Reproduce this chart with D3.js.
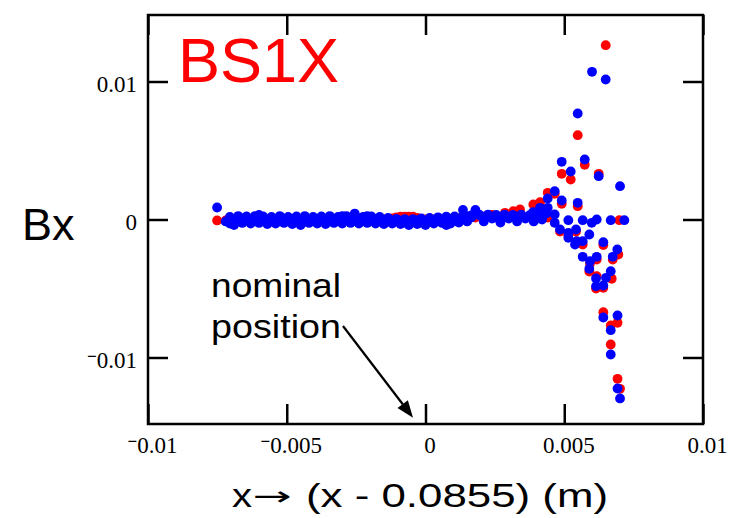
<!DOCTYPE html>
<html><head><meta charset="utf-8">
<script src="https://cdn.jsdelivr.net/npm/d3@7"></script>
<style>body{margin:0;background:#fff}svg{display:block}</style>
</head><body>
<svg id="c" width="729" height="518"></svg>
<script>
// ---------- data ----------
const title = "BS1X";
const yLabel = "Bx";
const xLabelA = "x";
const xLabelArrow = "\u2192";
const xLabelB = "(x - 0.0855) (m)";
const noteLines = ["nominal", "position"];
const xTicks = [-0.01, -0.005, 0, 0.005, 0.01];
const yTicks = [-0.01, 0, 0.01];
const xDomain = [-0.01, 0.01];
const yDomain = [-0.01482, 0.01482];
const notePoint = [-0.00045, -0.01436]; // arrow tip (data units)

// red series: flat band
const redBand = [
  [-0.00751,-0.00007],
  [-0.0072,-0.00007],[-0.0069,0],[-0.0066,-0.00007],[-0.0063,0],[-0.006,-0.00007],[-0.0057,0],
  [-0.0054,-0.00007],[-0.0051,0],[-0.0048,-0.00007],[-0.0045,0],[-0.0042,-0.00007],[-0.0039,0],
  [-0.0036,-0.00007],[-0.0033,0],[-0.003,0],[-0.0027,-0.00007],[-0.0024,0],[-0.0021,-0.00007],
  [-0.0018,0],[-0.0015,0],[-0.0012,0.00008],[-0.00105,0.00016],[-0.0009,0.0002],[-0.00075,0.0002],
  [-0.0006,0.0002],[-0.00045,0.0002],[-0.0003,0.00012],[0,0],[0.0003,0],[0.0006,0],[0.0009,0.00003],
  [0.0012,0.00007],[0.0015,0.0001],[0.0018,0.00014],[0.0021,0.0002],[0.0024,0.00034]
];
// red series: edge region
const redEdge = [
  [0.006494,0.01263],[0.005485,0.006108],[0.004909,0.003311],[0.005233,0.002898],[0.005738,0.003964],
  [0.006242,0.003311],[0.004404,0.001935],[0.004656,0.001862],[0.004909,0.001138],[0.005485,0.000964],
  [0.004127,0.001254],[0.003885,0.001087],[0.003406,0.000725],[0.003164,0.000601],[0.002865,0.000485],
  [0.004404,0.000145],[0.006985,-0.000051],[0.005665,-0.001812],[0.00617,-0.002898],[0.006408,-0.001848],
  [0.006949,-0.002536],[0.006747,-0.002898],[0.006711,-0.004297],[0.00617,-0.004108],[0.006408,-0.004949],
  [0.006408,-0.006717],[0.00692,-0.007485],[0.006675,-0.007681],[0.006675,-0.009058],[0.00692,-0.011543],
  [0.00701,-0.012268],[0.004847,-0.00087],[0.005147,-0.001159],[0.005424,-0.00087],[0.005929,-0.003188],
  [0.005903,-0.003768],[0.006145,-0.005]
];
// blue series: flat band (middle, upper and lower rows)
const blueBand = [
  [-0.00751,0.00087],
  [-0.0072,-0.00014],[-0.00705,-0.00029],[-0.0069,-0.0004],[-0.00675,-0.00007],[-0.0066,0.00007],[-0.00645,-0.00007],
  [-0.0063,0],[-0.00615,0.00007],[-0.006,0.00033],[-0.00585,0.00007],[-0.0057,-0.00007],[-0.00555,-0.00014],
  [-0.0054,0],[-0.00525,-0.00007],[-0.0051,0.00007],[-0.00495,-0.00007],[-0.0048,-0.00014],[-0.00465,0],
  [-0.0045,-0.0004],[-0.00435,-0.00014],[-0.0042,0],[-0.00405,-0.00007],[-0.0039,0.00007],[-0.00375,-0.00007],
  [-0.0036,-0.00014],[-0.00345,0],[-0.0033,0.00007],[-0.00315,-0.00007],[-0.003,0.00025],[-0.00285,0.00007],
  [-0.0027,0],[-0.00255,0.00043],[-0.0024,0.00007],[-0.00225,-0.00007],[-0.0021,0.00025],[-0.00195,0],
  [-0.0018,-0.00007],[-0.00165,-0.00014],[-0.0015,-0.00007],[-0.00135,0],[-0.0012,-0.00014],[-0.00105,-0.00007],
  [-0.0009,-0.00014],[-0.00075,-0.00022],[-0.0006,-0.0004],[-0.00045,-0.00014],[-0.0003,-0.00007],[-0.00015,-0.00022],
  [0,-0.0004],[0.00015,-0.00014],[0.0003,-0.00007],[0.00045,0],[0.0006,-0.00007],[0.00075,-0.0004],
  [0.0009,-0.00014],[0.00105,-0.00007],[0.0012,0.00007],[0.00135,0.00069],[0.0015,0.00022],[0.00165,0.00014],
  [0.0018,0.00069],[0.00195,0.00029],[0.0021,0.00014],[0.00225,0.00022],[0.0024,0.00007],[0.00255,0.00014],
  [0.0027,0],[0.00285,0.00022],[0.003,0.00007],[0.00315,0.00029],[0.0033,0],[0.00345,0.00022],
  [0.0036,0.00007],[0.00375,0.00029],[0.0039,0],[0.00405,0.00014],[0.0042,0],[0.00435,0.00043],
  [0.0021,-0.00014],[0.0027,-0.00022],[0.0033,-0.00014],[0.0039,-0.00014]
];
const blueUpper = [
  [-0.00705,0.00018],[-0.00675,0.00025],[-0.00645,0.00022],[-0.00615,0.00025],[-0.00585,0.00022],[-0.00555,0.00018],
  [-0.00525,0.00025],[-0.00495,0.00018],[-0.00465,0.00022],[-0.00435,0.00025],[-0.00405,0.00018],[-0.00375,0.00022],
  [-0.00345,0.00025],[-0.00315,0.00018],[-0.00285,0.00025],[-0.00255,0.00022],[-0.00225,0.00018],[-0.00195,0.00022],
  [-0.00165,0.00018],[-0.00135,0.00012],[-0.00105,0.00005],[-0.00075,0.00003],[-0.00045,0.00003],[-0.00015,0.00008],
  [0.00015,0.00012],[0.00045,0.00016],[0.00075,0.0002],[0.00105,0.00022],[0.00135,0.00025],[0.00165,0.00029],
  [0.00195,0.00033],[0.00225,0.00036],[0.00255,0.00033],[0.00285,0.00036],[0.00315,0.00033],[0.00345,0.00036],
  [0.00375,0.00029],[0.00405,0.00033]
];
const blueLower = [
  [-0.0069,-0.00029],[-0.0066,-0.00025],[-0.0063,-0.00029],[-0.006,-0.00025],[-0.0057,-0.00033],[-0.0054,-0.00029],
  [-0.0051,-0.00025],[-0.0048,-0.00033],[-0.0045,-0.00029],[-0.0042,-0.00025],[-0.0039,-0.00029],[-0.0036,-0.00033],
  [-0.0033,-0.00025],[-0.003,-0.00029],[-0.0027,-0.00025],[-0.0024,-0.00029],[-0.0021,-0.00025],[-0.0018,-0.00029],
  [-0.0015,-0.00033],[-0.0012,-0.00029],[-0.0009,-0.00033],[-0.0006,-0.00029],[-0.0003,-0.00033],[0,-0.00029],
  [0.0003,-0.00029],[0.0006,-0.00025],[0.0009,-0.00029],[0.0012,-0.00022],[0.0015,-0.00014]
];
// blue series: edge region
const blueEdge = [
  [0.004656,0.002051],[0.004404,0.001522],[0.004909,0.001377],[0.005485,0.00121],[0.004127,0.000848],
  [0.003874,0.000529],[0.004404,0.000848],[0.004656,0.000362],[0.005147,-0.000051],[0.005665,-0.000051],
  [0.00599,-0.000239],[0.00617,0],[0.006675,-0.000051],[0.007165,-0.000051],[0.004656,-0.000239],
  [0.004847,-0.000725],[0.005147,-0.000964],[0.005147,-0.001326],[0.005424,-0.000725],[0.005449,-0.001572],
  [0.005388,-0.001812],[0.005665,-0.001572],[0.005903,-0.001087],[0.005665,-0.002703],[0.005929,-0.003022],
  [0.005903,-0.003572],[0.00617,-0.002703],[0.006408,-0.001645],[0.006912,-0.002174],[0.006747,-0.002703],
  [0.006675,-0.003746],[0.006505,-0.004224],[0.006145,-0.004275],[0.006145,-0.004833],[0.006408,-0.004782],
  [0.006408,-0.007101],[0.00692,-0.006956],[0.006675,-0.008021],[0.006675,-0.009782],[0.00692,-0.012246],
  [0.00701,-0.01297],[0.006001,0.010702],[0.006494,0.010144],[0.005485,0.007681],[0.004909,0.004181],
  [0.005233,0.003478],[0.005738,0.004348],[0.006242,0.003137],[0.00701,0.002413]
];

// ---------- drawing ----------
const M = {left:148, right:703, top:15, bottom:424};
const svg = d3.select("#c");
const x = d3.scaleLinear().domain(xDomain).range([M.left, M.right]);
const y = d3.scaleLinear().domain(yDomain).range([M.bottom, M.top]);
const TICK = 20, SW = 2.5, R = 4.9;
const serif = "'Liberation Serif','Times New Roman',Times,serif";
const sans = "'Liberation Sans',Arial,Helvetica,sans-serif";

function numLabel(sel){
  sel.each(function(d){
    const t = d3.select(this); t.text(null);
    if (d < 0){
      t.append("tspan").attr("dy", -6).attr("font-size", 17).attr("font-weight", "bold").text("\u2212");
      t.append("tspan").attr("dy", 6).text(String(Math.abs(d)));
    } else t.text(d === 0 ? "0" : String(d));
  });
}
function styleAxis(g){
  g.attr("font-family", serif).attr("font-size", 23);
  g.select(".domain").remove();
  g.selectAll(".tick line").attr("stroke", "#000").attr("stroke-width", SW);
  g.selectAll(".tick text").attr("fill", "#000");
}

// points
const dots = svg.append("g");
dots.selectAll("circle.r").data(redBand.concat(redEdge)).join("circle")
  .attr("class","r").attr("cx", d => x(d[0])).attr("cy", d => y(d[1])).attr("r", R).attr("fill", "#ff0000");
dots.selectAll("circle.b").data(blueLower.concat(blueUpper, blueBand, blueEdge)).join("circle")
  .attr("class","b").attr("cx", d => x(d[0])).attr("cy", d => y(d[1])).attr("r", R).attr("fill", "#0000ff");

// axes (inward ticks on all four sides)
const gB = svg.append("g").attr("transform", `translate(0,${M.bottom})`)
  .call(d3.axisBottom(x).tickValues(xTicks).tickSizeInner(-TICK).tickSizeOuter(0)).call(styleAxis);
gB.selectAll(".tick text").attr("y", 29).attr("dy", 0).attr("dx", 4).call(numLabel);
svg.append("g").attr("transform", `translate(0,${M.top})`)
  .call(d3.axisTop(x).tickValues(xTicks).tickSizeInner(-TICK).tickSizeOuter(0).tickFormat("")).call(styleAxis);
const gL = svg.append("g").attr("transform", `translate(${M.left},0)`)
  .call(d3.axisLeft(y).tickValues(yTicks).tickSizeInner(-TICK).tickSizeOuter(0)).call(styleAxis);
gL.selectAll(".tick text").attr("x", -11).attr("dy", 0).attr("y", 10).call(numLabel);
svg.append("g").attr("transform", `translate(${M.right},0)`)
  .call(d3.axisRight(y).tickValues(yTicks).tickSizeInner(-TICK).tickSizeOuter(0).tickFormat("")).call(styleAxis);

// frame
svg.append("rect").attr("x", M.left).attr("y", M.top)
  .attr("width", M.right - M.left).attr("height", M.bottom - M.top)
  .attr("fill", "none").attr("stroke", "#000").attr("stroke-width", SW);

// title
svg.append("text").attr("x", 178).attr("y", 82).attr("font-family", sans).attr("font-size", 63)
  .attr("fill", "#ff0000").text(title);
// y label
svg.append("text").attr("x", 22).attr("y", 240).attr("font-family", sans).attr("font-size", 45)
  .attr("fill", "#000").text(yLabel);
// x label
svg.append("text").attr("x", 232).attr("y", 507).attr("font-family", sans).attr("font-size", 34)
  .attr("textLength", 20).attr("lengthAdjust", "spacingAndGlyphs").attr("fill", "#000").text(xLabelA);
svg.append("text").attr("x", 253).attr("y", 505).attr("font-family", "'DejaVu Sans',sans-serif").attr("font-size", 26)
  .attr("textLength", 39).attr("lengthAdjust", "spacingAndGlyphs").attr("fill", "#000").text(xLabelArrow);
svg.append("text").attr("x", 306).attr("y", 507).attr("font-family", sans).attr("font-size", 34)
  .attr("textLength", 302).attr("lengthAdjust", "spacingAndGlyphs").attr("fill", "#000").text(xLabelB);
// annotation
noteLines.forEach((s, i) => {
  svg.append("text").attr("x", 211).attr("y", 297 + i * 41).attr("font-family", sans).attr("font-size", 33)
    .attr("textLength", 130).attr("lengthAdjust", "spacingAndGlyphs").attr("fill", "#000").text(s);
});
const a0 = [343, 326], a1 = [x(notePoint[0]), y(notePoint[1])];
const dx = a1[0] - a0[0], dy = a1[1] - a0[1], L = Math.hypot(dx, dy), ux = dx / L, uy = dy / L;
const hl = 17, hw = 6.5;
const base = [a1[0] - ux * hl, a1[1] - uy * hl];
svg.append("line").attr("x1", a0[0]).attr("y1", a0[1]).attr("x2", base[0] + ux * 2).attr("y2", base[1] + uy * 2)
  .attr("stroke", "#000").attr("stroke-width", 2.2);
svg.append("path").attr("d", d3.line()([a1, [base[0] - uy * hw, base[1] + ux * hw], [base[0] + uy * hw, base[1] - ux * hw]]) + "Z")
  .attr("fill", "#000");
</script>
</body></html>
